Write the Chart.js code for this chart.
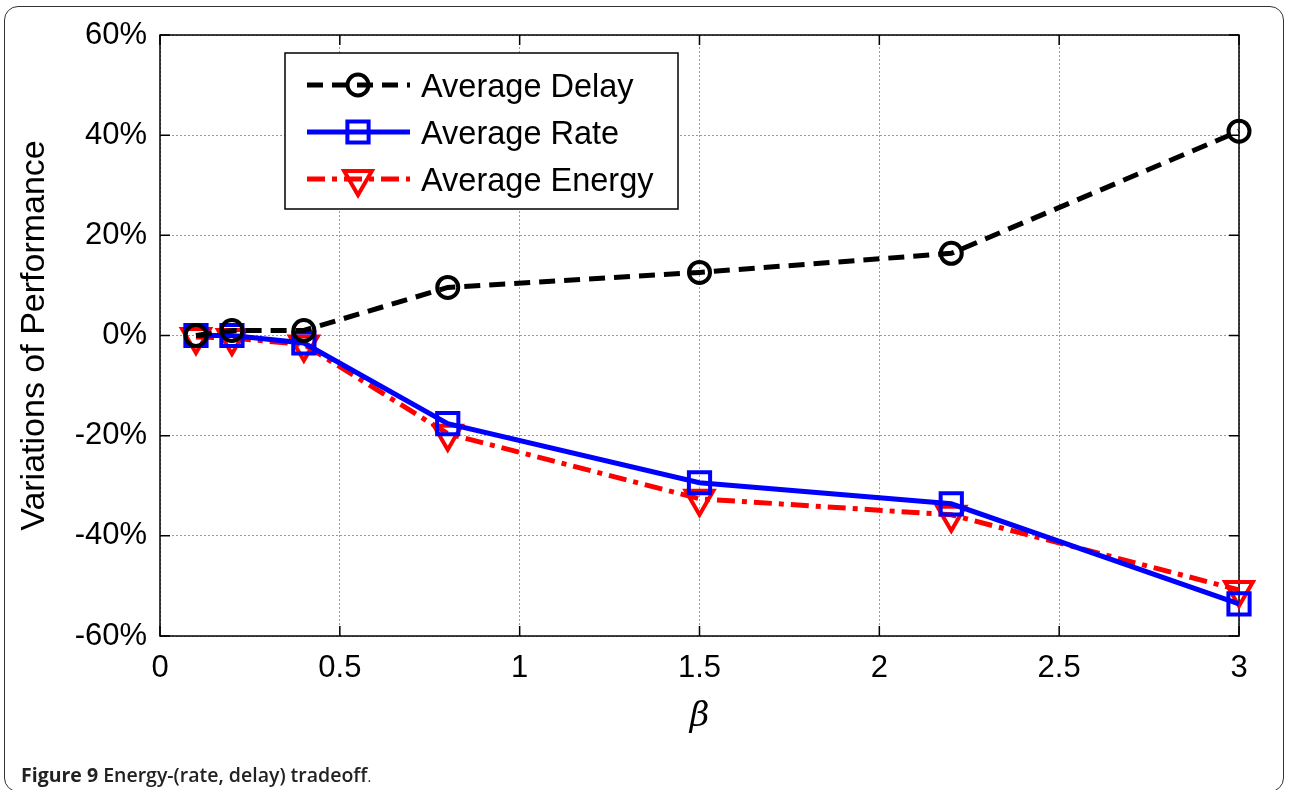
<!DOCTYPE html>
<html lang="en">
<head>
<meta charset="utf-8">
<title>Energy-(rate, delay) tradeoff</title>
<script src="https://cdn.jsdelivr.net/npm/chart.js@4.4.1/dist/chart.umd.min.js"></script>
<style>
  html, body { margin: 0; padding: 0; background: #fff; }
  #wrap { position: relative; width: 1290px; height: 790px; overflow: hidden; }
  #frame { position: absolute; left: 4px; top: 6px; width: 1280px; height: 786px;
           border: 1.5px solid #333; border-radius: 14px; box-sizing: border-box; }
  #plot { position: absolute; left: 0; top: 0; }
  #caption { position: absolute; left: 21px; top: 761px; font-family: "Open Sans", sans-serif;
             font-size: 19.5px; color: #222; }
  #caption b { font-weight: 700; }
</style>
</head>
<body>
<div id="wrap">
  <div id="frame"></div>
  <canvas id="plot" width="1290" height="790"></canvas>
  <div id="caption"><b>Figure 9</b> <b style="font-weight:600">Energy-(rate, delay) tradeoff</b><span style="font-size:14px">.</span></div>
</div>
<script>
// beta values and the three series (percent)
var betas = [0.1, 0.2, 0.4, 0.8, 1.5, 2.2, 3];
var avgDelay = [0, 1, 1, 9.6, 12.6, 16.4, 40.8];
var avgRate = [0, 0, -1.5, -17.6, -29.4, -33.6, -53.6];
var avgEnergy = [-0.3, -0.5, -1.8, -19.6, -32.6, -35.8, -50.8];
var seriesNames = ['Average Delay', 'Average Rate', 'Average Energy'];
var xTicks = [0, 0.5, 1, 1.5, 2, 2.5, 3];
var yTicks = [-60, -40, -20, 0, 20, 40, 60];

function pts(vals) {
  return betas.map(function (b, i) { return { x: b, y: vals[i] }; });
}

function marker(ctx, style, x, y, r) {
  ctx.beginPath();
  if (style === 'circle') {
    ctx.arc(x, y, r, 0, Math.PI * 2);
  } else if (style === 'rect') {
    var s = Math.SQRT1_2 * r;
    ctx.rect(x - s, y - s, 2 * s, 2 * s);
  } else {
    // downward triangle
    for (var k = 0; k < 3; k++) {
      var a = Math.PI / 2 + k * 2 * Math.PI / 3;
      var px = x + Math.cos(a) * r, py = y + Math.sin(a) * r;
      if (k === 0) ctx.moveTo(px, py); else ctx.lineTo(px, py);
    }
    ctx.closePath();
  }
  ctx.stroke();
}

var boxPlugin = {
  id: 'box',
  beforeDatasetsDraw: function (chart) {
    var ctx = chart.ctx, a = chart.chartArea;
    var xs = chart.scales.x, ys = chart.scales.y;
    ctx.save();
    ctx.strokeStyle = '#000';
    ctx.lineWidth = 1.5;
    ctx.strokeRect(a.left, a.top, a.right - a.left, a.bottom - a.top);
    ctx.beginPath();
    xs.ticks.forEach(function (t) {
      var px = xs.getPixelForValue(t.value);
      ctx.moveTo(px, a.bottom); ctx.lineTo(px, a.bottom - 10);
      ctx.moveTo(px, a.top); ctx.lineTo(px, a.top + 10);
    });
    ys.ticks.forEach(function (t) {
      var py = ys.getPixelForValue(t.value);
      ctx.moveTo(a.left, py); ctx.lineTo(a.left + 10, py);
      ctx.moveTo(a.right, py); ctx.lineTo(a.right - 10, py);
    });
    ctx.stroke();
    ctx.restore();
  },
  afterDatasetsDraw: function (chart) {
    // legend box, MATLAB style
    var ctx = chart.ctx;
    var L = 285, T = 53, W = 393, H = 156;
    ctx.save();
    ctx.fillStyle = '#fff';
    ctx.fillRect(L, T, W, H);
    ctx.strokeStyle = '#000';
    ctx.lineWidth = 1.5;
    ctx.strokeRect(L, T, W, H);
    chart.data.datasets.forEach(function (ds, i) {
      var y = 85 + i * 47;
      ctx.strokeStyle = ds.borderColor;
      ctx.lineWidth = ds.borderWidth;
      ctx.setLineDash(ds.borderDash || []);
      ctx.beginPath();
      ctx.moveTo(307, y); ctx.lineTo(410, y);
      ctx.stroke();
      ctx.setLineDash([]);
      ctx.lineWidth = ds.pointBorderWidth;
      marker(ctx, ds.pointStyle, 358, y, ds.pointRadius);
      ctx.fillStyle = '#000';
      ctx.font = '32.5px "Liberation Sans", Arial, sans-serif';
      ctx.textBaseline = 'middle';
      ctx.fillText(ds.label, 421, y + 3);
    });
    ctx.restore();
  }
};

var tickFont = { family: '"Liberation Sans", Arial, sans-serif', size: 31 };

new Chart(document.getElementById('plot'), {
  type: 'line',
  data: {
    datasets: [
      {
        label: seriesNames[0], data: pts(avgDelay),
        borderColor: '#000', borderWidth: 5, borderDash: [16, 9],
        pointStyle: 'circle', pointRadius: 10.5, pointBorderWidth: 4,
        pointBackgroundColor: 'rgba(0,0,0,0)', pointBorderColor: '#000'
      },
      {
        label: seriesNames[1], data: pts(avgRate),
        borderColor: '#0000ff', borderWidth: 5,
        pointStyle: 'rect', pointRadius: 15, pointBorderWidth: 4,
        pointBackgroundColor: 'rgba(0,0,0,0)', pointBorderColor: '#0000ff'
      },
      {
        label: seriesNames[2], data: pts(avgEnergy),
        borderColor: '#ff0000', borderWidth: 5, borderDash: [18, 7, 5, 7],
        pointStyle: 'triangle', pointRotation: 180, pointRadius: 16, pointBorderWidth: 4,
        pointBackgroundColor: 'rgba(0,0,0,0)', pointBorderColor: '#ff0000'
      }
    ]
  },
  options: {
    responsive: false,
    animation: false,
    devicePixelRatio: 1,
    clip: false,
    layout: { padding: { left: 0, top: 35, right: 51, bottom: 0 } },
    plugins: { legend: { display: false }, tooltip: { enabled: false } },
    elements: { line: { tension: 0 } },
    scales: {
      x: {
        type: 'linear', min: 0, max: 3,
        afterFit: function (s) { s.height = 154; },
        afterBuildTicks: function (s) {
          s.ticks = xTicks.map(function (v) { return { value: v }; });
        },
        ticks: {
          font: tickFont, color: '#000', padding: 14, maxRotation: 0, autoSkip: false,
          callback: function (v) { return String(v); }
        },
        grid: { color: '#9a9a9a', lineWidth: 1, drawTicks: false },
        border: { display: false, dash: [2, 2] },
        title: {
          display: true, text: 'β', color: '#000',
          font: { family: '"DejaVu Serif", "Liberation Serif", serif', size: 34, style: 'italic' },
          padding: { top: 0, bottom: 52 }
        }
      },
      y: {
        type: 'linear', min: -60, max: 60,
        afterFit: function (s) { s.width = 160; },
        afterBuildTicks: function (s) {
          s.ticks = yTicks.map(function (v) { return { value: v }; });
        },
        ticks: {
          font: tickFont, color: '#000', padding: 13,
          callback: function (v) { return v + '%'; }
        },
        grid: { color: '#9a9a9a', lineWidth: 1, drawTicks: false },
        border: { display: false, dash: [2, 2] },
        title: {
          display: true, text: 'Variations of Performance', color: '#000',
          font: { family: '"Liberation Sans", Arial, sans-serif', size: 34 },
          padding: { top: 14, bottom: 0 }
        }
      }
    }
  },
  plugins: [boxPlugin]
});
</script>
</body>
</html>
